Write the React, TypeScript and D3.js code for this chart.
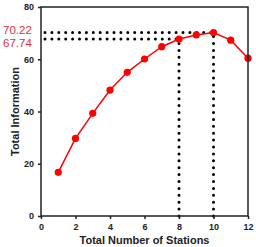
import * as d3 from 'd3'
import { useEffect, useRef } from 'react'

const stations = [1, 2, 3, 4, 5, 6, 7, 8, 9, 10, 11, 12]
const information = [16.7, 29.7, 39.3, 48.2, 55.0, 60.1, 64.8, 67.74, 69.3, 70.22, 67.3, 60.4]
const marked = [
    { x: 8, y: 67.74, label: '67.74' },
    { x: 10, y: 70.22, label: '70.22' },
]
const xTicks = [0, 2, 4, 6, 8, 10, 12]
const yTicks = [0, 20, 40, 60, 80]

export default function App() {
    const ref = useRef<SVGSVGElement>(null)

    useEffect(() => {
        const width = 256
        const height = 247
        const margin = { top: 7, right: 8, bottom: 31, left: 41 }

        const svg = d3.select(ref.current)
        svg.selectAll('*').remove()

        const x = d3.scaleLinear().domain([0, 12]).range([margin.left, width - margin.right])
        const y = d3.scaleLinear().domain([0, 80]).range([height - margin.bottom, margin.top])

        const font = 'Liberation Sans, Arial, sans-serif'

        // dotted guides
        const dots = svg.append('g')
            .attr('stroke', '#000')
            .attr('stroke-width', 3)
            .attr('stroke-linecap', 'round')
            .attr('stroke-dasharray', '0 6.9')
        marked.forEach(m => {
            dots.append('line')
                .attr('x1', x(0) + 4).attr('x2', x(m.x))
                .attr('y1', y(m.y)).attr('y2', y(m.y))
            dots.append('line')
                .attr('x1', x(m.x)).attr('x2', x(m.x))
                .attr('y1', y(0)).attr('y2', y(m.y))
        })

        // line + markers
        const pts = stations.map((s, i) => [s, information[i]] as [number, number])
        svg.append('path')
            .datum(pts)
            .attr('fill', 'none')
            .attr('stroke', '#f00')
            .attr('stroke-width', 1.5)
            .attr('d', d3.line().x(d => x(d[0])).y(d => y(d[1])))
        svg.append('g')
            .attr('fill', '#f00')
            .selectAll('circle')
            .data(pts)
            .join('circle')
            .attr('cx', d => x(d[0]))
            .attr('cy', d => y(d[1]))
            .attr('r', 3.6)

        // axes
        const xAxis = svg.append('g')
            .attr('transform', `translate(0,${y(0)})`)
            .call(d3.axisBottom(x).tickValues(xTicks).tickSize(3).tickSizeOuter(0).tickPadding(5))
        const yAxis = svg.append('g')
            .attr('transform', `translate(${x(0)},0)`)
            .call(d3.axisLeft(y).tickValues(yTicks).tickSize(3).tickSizeOuter(0).tickPadding(4))
        ;[xAxis, yAxis].forEach(a => {
            a.select('.domain').remove()
            a.selectAll('line').attr('stroke', '#222').attr('stroke-width', 1.5)
            a.selectAll('text')
                .attr('font-family', font)
                .attr('font-size', 9)
                .attr('font-weight', 'bold')
                .attr('fill', '#222')
        })

        // frame
        svg.append('rect')
            .attr('x', x(0)).attr('y', y(80))
            .attr('width', x(12) - x(0)).attr('height', y(0) - y(80))
            .attr('fill', 'none')
            .attr('stroke', '#222')
            .attr('stroke-width', 1.5)

        // value labels
        svg.append('g')
            .selectAll('text')
            .data(marked)
            .join('text')
            .attr('x', 3)
            .attr('y', d => d.x === 10 ? y(d.y) + 1.5 : y(d.y) + 7.7)
            .attr('font-family', font)
            .attr('font-size', 11.5)
            .attr('fill', '#e0303a')
            .text(d => d.label)

        // axis titles
        svg.append('text')
            .attr('x', (x(0) + x(12)) / 2)
            .attr('y', 244)
            .attr('text-anchor', 'middle')
            .attr('font-family', font)
            .attr('font-size', 11)
            .attr('font-weight', 'bold')
            .attr('fill', '#222')
            .text('Total Number of Stations')
        svg.append('text')
            .attr('transform', `translate(19,${(y(0) + y(80)) / 2}) rotate(-90)`)
            .attr('text-anchor', 'middle')
            .attr('font-family', font)
            .attr('font-size', 11)
            .attr('font-weight', 'bold')
            .attr('fill', '#222')
            .text('Total Information')
    }, [])

    return (
        <svg ref={ref} width={256} height={247}
            style={{ position: 'absolute', left: 0, top: 0, background: '#fff' }} />
    )
}
